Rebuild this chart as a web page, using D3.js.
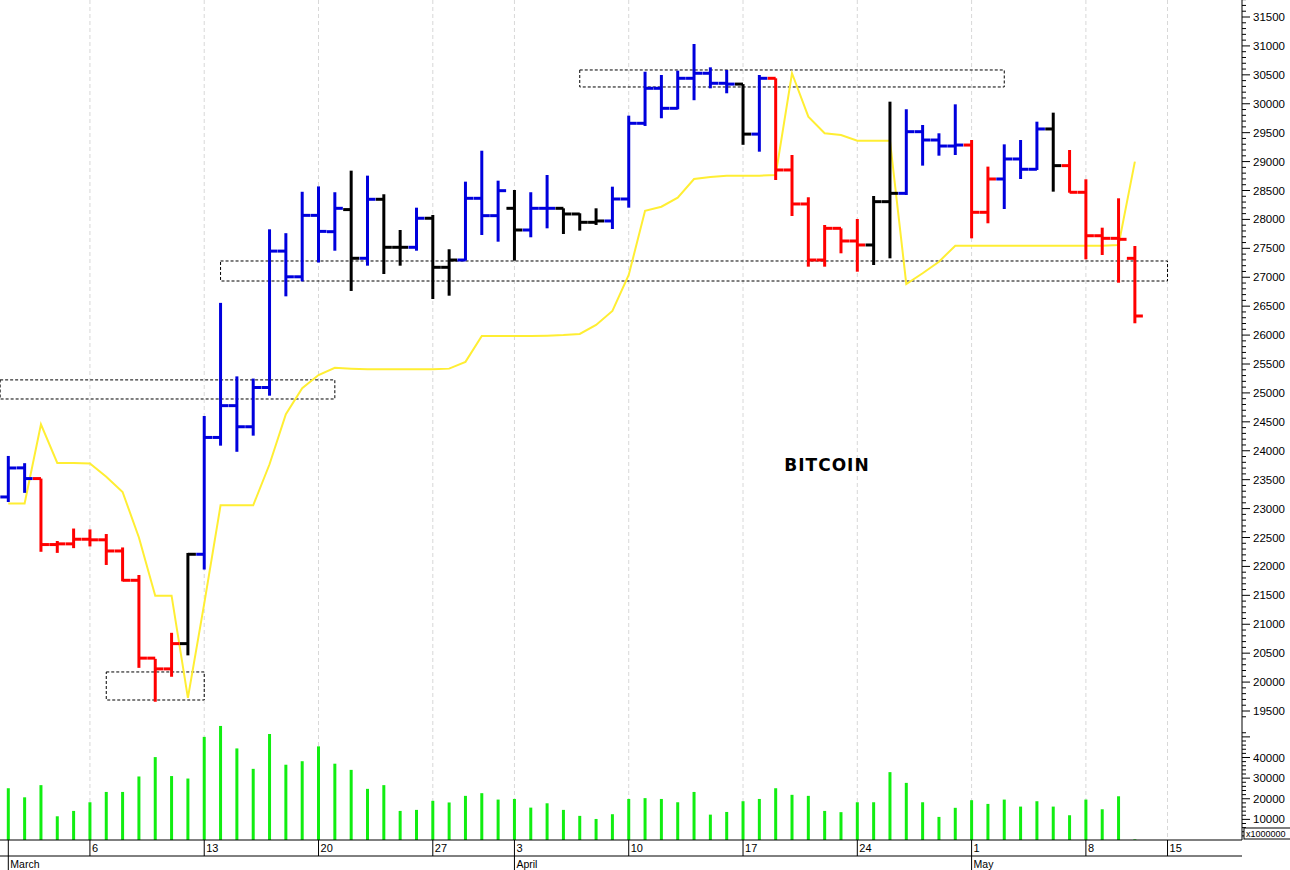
<!DOCTYPE html>
<html><head><meta charset="utf-8">
<script src="https://cdn.jsdelivr.net/npm/d3@7"></script>
<style>body{margin:0;background:#fff}svg{display:block}</style>
</head><body><svg id="c" width="1290" height="870"></svg>
<script>
// Daily bars, index 0 = 1 March
const opens  = [23201,23704,23519,22378,22390,22470,22460,22267,21760,20414,20228,20665,22210,24230,24780,24415,25094,27452,27008,28070,27788,28170,27328,28348,27518,27518,28020,27172,27298,28365,28065,28192,27817,28192,28192,28094,27950,27973,28353,29662,30267,29921,30440,30527,30354,30340,29475,30440,28855,28267,27298,27846,27627,27558,28307,28451,29517,29373,29269,29286,28123,28699,29045,28867,29564,28930,28469,27718,27673,27327];
const highs  = [23910,23785,23519,22440,22655,22640,22560,22328,21852,20402,20852,22233,24601,26557,25286,25248,27829,27762,28478,28571,28470,28843,28757,28435,27817,28203,28077,27484,28653,29188,28670,28509,28470,28768,28192,28106,28192,28566,29794,30554,30497,30572,31033,30630,30584,30340,30497,30440,29114,28383,27904,27846,28007,28405,30036,29905,29633,29489,29990,29373,28913,29298,29373,29690,29846,29200,28694,27857,28365,27540];
const lows   = [23114,23272,22253,22234,22316,22346,22025,21742,20246,19660,20092,20462,21946,24088,23982,24261,24952,26670,26929,27255,27459,26763,27200,27056,27200,27459,26624,26681,27287,27731,27615,27287,27691,27846,27748,27806,27904,27834,28203,29616,29749,29904,30061,30267,30181,29290,29171,28682,28059,27183,27183,27414,27096,27212,27327,28423,28930,29102,29114,27673,27933,28180,28699,28855,28480,28462,27310,27385,26906,26204];
const closes = [23702,23519,22378,22390,22470,22460,22267,21760,20414,20228,20665,22210,24230,24780,24415,25094,27452,27008,28070,27793,28192,27328,28348,27518,27518,28020,27172,27298,28365,28065,28497,27817,28192,28192,28094,27950,27973,28353,29662,30267,29921,30440,30527,30354,30340,29475,30440,28855,28267,27298,27846,27627,27558,28307,28451,29517,29373,29269,29286,28123,28699,29045,28867,29564,28930,28469,27718,27673,27656,26330];
const trend  = "bbrrrrrrrrrkbbbbbbbbbkbkkbkkbbbkbbkkkbbbbbbbbkbrrrrrrkkbbbbrrbbbkrrrrr";
const signal = [23087,23087,24458,23790,23790,23778,23550,23287,22500,21494,21494,19726,21358,23056,23056,23056,23766,24631,25082,25310,25433,25420,25410,25410,25410,25410,25410,25420,25537,25985,25985,25985,25985,25990,26000,26019,26175,26417,27040,28150,28220,28376,28699,28734,28756,28756,28756,28768,30527,29776,29489,29460,29361,29361,29361,26883,27069,27269,27546,27546,27546,27546,27546,27546,27546,27546,27546,27546,27558,29000];
const volumes = [25.1,20.7,26.6,11.5,14.1,18.3,23.3,23.3,30.8,40.2,31.0,29.8,50.0,55.3,44.4,34.5,51.4,36.5,38.2,45.4,37.0,34.0,24.8,26.6,14.1,14.6,19.0,18.2,21.4,22.7,19.6,19.9,15.7,17.8,14.6,11.7,10.2,12.5,19.9,20.3,19.9,18.3,23.3,12.3,13.6,18.8,19.9,25.1,21.9,21.4,14.1,13.5,18.3,18.3,32.9,27.7,18.3,11.2,15.6,19.3,17.5,19.6,16.2,18.8,16.2,12.0,19.6,14.9,21.2,0.3]; // x1000 (x1000000)
// zones: [startIndex, endIndex, low, high]
const zoneStart = [-0.5, 6, 13, 35];
const zoneEnd   = [20, 12, 71, 61];
const zoneLow   = [24895, 19690, 26935, 30290];
const zoneHigh  = [25225, 20175, 27281, 30584];
const dayTickIdx = [5,12,19,26,31,38,45,52,59,66,71];
const dayTickLbl = ["6","13","20","27","3","10","17","24","1","8","15"];
const monthIdx = [0,31,59];
const monthLbl = ["March","April","May"];
const priceTicks = d3.range(19500,31501,500);
const volTicks = [10000,20000,30000,40000];
const title = "BITCOIN";

const svg = d3.select("#c");
const AX = 1242;
const x = d3.scaleLinear().domain([0,75.5]).range([8.3,AX-1]);
const y = d3.scaleLinear().domain([19500,31500]).range([711,17]);
const yv = d3.scaleLinear().domain([0,40000]).range([840,757.5]);
const col = {b:"#0000dd", r:"#ff0000", k:"#000000"};

// gridlines
svg.append("g").selectAll("line").data(dayTickIdx).join("line")
  .attr("x1",d=>x(d)).attr("x2",d=>x(d)).attr("y1",0).attr("y2",840)
  .attr("stroke","#d8d8d8").attr("stroke-dasharray","4,3");

// zones
svg.append("g").selectAll("rect").data(zoneStart).join("rect")
  .attr("x",(d,i)=>Math.max(0,x(d))).attr("width",(d,i)=>x(zoneEnd[i])-Math.max(0,x(d)))
  .attr("y",(d,i)=>y(zoneHigh[i])).attr("height",(d,i)=>y(zoneLow[i])-y(zoneHigh[i]))
  .attr("fill","none").attr("stroke","#000").attr("stroke-width",1).attr("stroke-dasharray","3,2");

// signal line
svg.append("path").datum(signal)
  .attr("d",d3.line().x((d,i)=>x(i)).y(d=>y(d)))
  .attr("fill","none").attr("stroke","#ffee33").attr("stroke-width",2);

// OHLC bars
const hw = 8;
const g = svg.append("g").attr("stroke-width",3).attr("stroke-linecap","butt");
opens.forEach((o,i)=>{
  const c = col[trend[i]];
  const xi = x(i);
  g.append("line").attr("x1",xi).attr("x2",xi).attr("y1",y(highs[i])).attr("y2",y(lows[i])).attr("stroke",c);
  g.append("line").attr("x1",xi-hw).attr("x2",xi).attr("y1",y(o)).attr("y2",y(o)).attr("stroke",c);
  g.append("line").attr("x1",xi).attr("x2",xi+hw).attr("y1",y(closes[i])).attr("y2",y(closes[i])).attr("stroke",c);
});

// volumes
svg.append("g").selectAll("line").data(volumes).join("line")
  .attr("x1",(d,i)=>x(i)).attr("x2",(d,i)=>x(i)).attr("y1",840).attr("y2",d=>yv(d*1000))
  .attr("stroke","#11ee11").attr("stroke-width",3);

// title
svg.append("text").attr("x",827).attr("y",471).attr("text-anchor","middle")
  .attr("font-family","Verdana, DejaVu Sans, sans-serif").attr("font-weight","bold").attr("font-size",17)
  .attr("letter-spacing",1).text(title);

// right axis
const ax = svg.append("g").attr("font-family","Liberation Sans, Arial, sans-serif").attr("font-size",11.5);
ax.append("line").attr("x1",AX).attr("x2",AX).attr("y1",0).attr("y2",840).attr("stroke","#000");
d3.range(19400,31801,100).forEach(v=>{
  const major = v%500===0;
  ax.append("line").attr("x1",AX).attr("x2",AX+(major?8:4)).attr("y1",y(v)).attr("y2",y(v)).attr("stroke","#000");
});
ax.selectAll("text.p").data(priceTicks).join("text").attr("class","p")
  .attr("x",AX+11).attr("y",d=>y(d)+4).text(d=>d);
d3.range(2000,52001,2000).forEach(v=>{
  const major = v%10000===0;
  if (yv(v) < 722) return;
  ax.append("line").attr("x1",AX).attr("x2",AX+(major?8:4)).attr("y1",yv(v)).attr("y2",yv(v)).attr("stroke","#000");
});
ax.selectAll("text.v").data(volTicks).join("text").attr("class","v")
  .attr("x",AX+11).attr("y",d=>yv(d)+4).text(d=>d);
ax.append("rect").attr("x",AX+2).attr("y",828).attr("width",47).attr("height",11).attr("fill","#fff").attr("stroke","#000");
ax.append("text").attr("x",AX+4).attr("y",837).attr("font-size",9).text("x1000000");

// bottom axis
const bx = svg.append("g").attr("font-family","Liberation Sans, Arial, sans-serif").attr("font-size",11);
bx.append("line").attr("x1",0).attr("x2",AX).attr("y1",840).attr("y2",840).attr("stroke","#000");
bx.append("line").attr("x1",0).attr("x2",AX).attr("y1",856).attr("y2",856).attr("stroke","#000");
dayTickIdx.forEach((d,i)=>{
  bx.append("line").attr("x1",x(d)).attr("x2",x(d)).attr("y1",840).attr("y2",856).attr("stroke","#000");
  bx.append("text").attr("x",x(d)+2).attr("y",852).text(dayTickLbl[i]);
});
bx.append("line").attr("x1",x(0)).attr("x2",x(0)).attr("y1",840).attr("y2",856).attr("stroke","#000");
monthIdx.forEach((d,i)=>{
  bx.append("line").attr("x1",x(d)).attr("x2",x(d)).attr("y1",856).attr("y2",870).attr("stroke","#000");
  bx.append("text").attr("x",x(d)+2).attr("y",868).attr("font-size",10.5).text(monthLbl[i]);
});
</script></body></html>
